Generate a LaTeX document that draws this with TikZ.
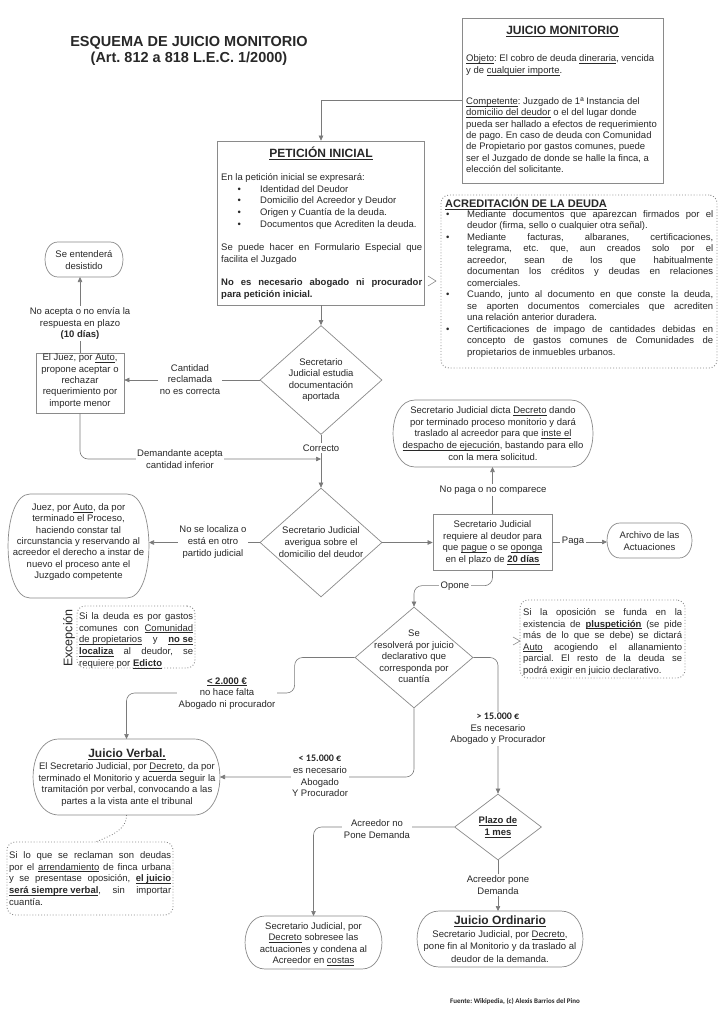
\documentclass[tikz,border=0pt]{standalone}
\usepackage{fontspec}
\setmainfont{Liberation Sans}
\newfontfamily\calib{Carlito}
\usetikzlibrary{arrows.meta,calc,shapes.geometric}
\definecolor{txtc}{HTML}{282828}
\definecolor{linec}{HTML}{7A7A7A}
\definecolor{boxc}{HTML}{8A8A8A}
\frenchspacing
\newsavebox{\undbox}
\newcommand{\und}[1]{\sbox{\undbox}{#1}\rlap{\rule[-0.17em]{\wd\undbox}{0.05em}}\usebox{\undbox}}
\newcommand{\J}[2]{\makebox[#1][s]{#2}}
\newcommand{\bul}{\makebox[21pt][l]{\textbullet}}
\newcommand{\ind}{\hspace*{21pt}}
\newcommand{\pbul}{\hspace*{16.5pt}\makebox[22.5pt][l]{\textbullet}}
\newcommand{\termshape}[6]{%
  \node[shapebox, minimum width=#4pt, minimum height=#5pt] (#1) at (#2,#3) {};
  \draw[boxline] ([xshift=#6pt]#1.north west) -- ([xshift=-#6pt]#1.north east)
    .. controls +(1.33*#6pt,0) and +(1.33*#6pt,0) .. ([xshift=-#6pt]#1.south east)
    -- ([xshift=#6pt]#1.south west)
    .. controls +(-1.33*#6pt,0) and +(-1.33*#6pt,0) .. ([xshift=#6pt]#1.north west) -- cycle;
}
\begin{document}
\begin{tikzpicture}[x=1pt,y=-1pt,
  txt/.style={text=txtc, font=\fontsize{9.5}{11.6}\selectfont\frenchspacing, inner sep=0pt, align=center},
  lbl/.style={txt, fill=white, inner sep=1.5pt},
  hdr/.style={text=txtc, font=\fontsize{12}{14}\selectfont\bfseries, inner sep=0pt},
  con/.style={draw=linec, line width=0.6pt, -{Triangle[width=4.5pt,length=5pt]}, rounded corners=8pt},
  boxline/.style={draw=boxc, line width=0.7pt},
  shapebox/.style={rectangle, inner sep=0pt, outer sep=0pt},
  rectbox/.style={rectangle, draw=boxc, line width=0.7pt, inner sep=0pt},
  dotbox/.style={rectangle, draw=boxc, line width=0.9pt, dotted, rounded corners=8pt, inner sep=0pt},
  dia/.style={diamond, draw=boxc, line width=0.7pt, inner sep=0pt}
]
\fill[white] (0,0) rectangle (724,1024);
\useasboundingbox (0,0) rectangle (724,1024);

% title
\node[text=txtc, font=\fontsize{14.5}{16}\selectfont\bfseries, align=center, inner sep=0pt] (title) at (189,51) {ESQUEMA DE JUICIO MONITORIO\\(Art. 812 a 818 L.E.C. 1/2000)};

% JUICIO MONITORIO box
\node[rectbox, minimum width=201pt, minimum height=165pt] (jm) at (562.5,100.5) {};
\node[hdr] (jmh) at (562.5,31) {\und{JUICIO MONITORIO}};
\node[txt, align=left, anchor=west, font=\fontsize{9.5}{11.4}\selectfont\frenchspacing] (jmb) at (466,114) {\und{Objeto}: El cobro de deuda \und{dineraria}, vencida\\
y de \und{cualquier importe}.\\[19.6pt]
\und{Competente}: Juzgado de 1ª Instancia del\\
\und{domicilio del deudor} o el del lugar donde\\
pueda ser hallado a efectos de requerimiento\\
de pago. En caso de deuda con Comunidad\\
de Propietario por gastos comunes, puede\\
ser el Juzgado de donde se halle la finca, a\\
elección del solicitante.};

% PETICION INICIAL
\node[rectbox, minimum width=207pt, minimum height=164pt] (pet) at (321,223) {};
\node[hdr] (peth) at (321,153) {\und{PETICIÓN INICIAL}};
\node[txt, align=left, anchor=west, font=\fontsize{9.5}{11.7}\selectfont\frenchspacing] (petb) at (221,236.5) {En la petición inicial se expresará:\\
\pbul Identidad del Deudor\\
\pbul Domicilio del Acreedor y Deudor\\
\pbul Origen y Cuantía de la deuda.\\
\pbul Documentos que Acrediten la deuda.\\[11.7pt]
\J{201pt}{Se puede hacer en Formulario Especial que}\\
facilita el Juzgado\\[11.7pt]
\J{201pt}{\bfseries No es necesario abogado ni procurador}\\
\textbf{para petición inicial.}};

% ACREDITACION
\node[dotbox, minimum width=276pt, minimum height=173pt] (acr) at (579,281.5) {};
\node[text=txtc, font=\fontsize{11}{13}\selectfont\bfseries, inner sep=0pt, anchor=west] (acrh) at (445,204) {\und{ACREDITACIÓN DE LA DEUDA}};
\node[txt, align=left, anchor=west, font=\fontsize{9.5}{11.5}\selectfont\frenchspacing] (acrb) at (446,284) {\bul\J{246pt}{Mediante documentos que aparezcan firmados por el}\\
\ind deudor (firma, sello o cualquier otra señal).\\
\bul\J{246pt}{Mediante facturas, albaranes, certificaciones,}\\
\ind\J{246pt}{telegrama, etc. que, aun creados solo por el}\\
\ind\J{246pt}{acreedor, sean de los que habitualmente}\\
\ind\J{246pt}{documentan los créditos y deudas en relaciones}\\
\ind comerciales.\\
\bul\J{246pt}{Cuando, junto al documento en que conste la deuda,}\\
\ind\J{246pt}{se aporten documentos comerciales que acrediten}\\
\ind una relación anterior duradera.\\
\bul\J{246pt}{Certificaciones de impago de cantidades debidas en}\\
\ind\J{246pt}{concepto de gastos comunes de Comunidades de}\\
\ind propietarios de inmuebles urbanos.};
\draw[linec, line width=0.5pt] (428,276) -- (436,281) -- (428,286);

% left column top
\termshape{des}{84}{259.5}{78}{35}{13}
\node[txt] (dest) at (84,260) {Se entenderá\\desistido};
\node[rectbox, minimum width=88pt, minimum height=60pt] (juez) at (80,383) {};
\node[txt, font=\fontsize{9.5}{11.3}\selectfont] (juezt) at (80,381) {El Juez, por \und{Auto},\\propone aceptar o\\rechazar\\requerimiento por\\importe menor};

% diamonds 1 and 2
\node[dia, minimum width=122pt, minimum height=109pt] (d1) at (321,380) {};
\node[txt] (d1t) at (321,380) {Secretario\\Judicial estudia\\documentación\\aportada};
\node[dia, minimum width=122pt, minimum height=109pt] (d2) at (321,542.5) {};
\node[txt] (d2t) at (321,542) {Secretario Judicial\\averigua sobre el\\domicilio del deudor};

% juez por auto terminal
\termshape{jp}{78.5}{546}{141}{104}{22}
\node[txt, font=\fontsize{9.5}{11.3}\selectfont] (jpt) at (78.5,542) {Juez, por \und{Auto}, da por\\terminado el Proceso,\\haciendo constar tal\\circunstancia y reservando al\\acreedor el derecho a instar de\\nuevo el proceso ante el\\Juzgado competente};

% requiere box
\node[rectbox, minimum width=119pt, minimum height=56pt] (req) at (492.5,542) {};
\node[txt] (reqt) at (492.5,542.5) {Secretario Judicial\\requiere al deudor para\\que \und{pague} o se \und{oponga}\\en el plazo de \textbf{\und{20 días}}};

% decreto terminal
\termshape{dec}{493}{433.5}{200}{67}{22}
\node[txt] (dect) at (493,433.5) {Secretario Judicial dicta \und{Decreto} dando\\por terminado proceso monitorio y dará\\traslado al acreedor para que \und{inste el}\\\und{despacho de ejecución}, bastando para ello\\con la mera solicitud.};

% archivo terminal
\termshape{arc}{649.5}{540.5}{85}{35}{13}
\node[txt] (arct) at (649.5,541) {Archivo de las\\Actuaciones};

% diamond 3
\node[dia, minimum width=118pt, minimum height=101pt] (d3) at (414,657.5) {};
\node[txt] (d3t) at (414,656.5) {Se\\resolverá por juicio\\declarativo que\\corresponda por\\cuantía};

% pluspeticion
\node[dotbox, minimum width=165pt, minimum height=78pt] (plus) at (602.5,639) {};
\node[txt, align=left, anchor=west] (plust) at (523,642) {\J{159pt}{Si la oposición se funda en la}\\
\J{159pt}{existencia de \textbf{\und{pluspetición}} (se pide}\\
\J{159pt}{más de lo que se debe) se dictará}\\
\J{159pt}{\und{Auto} acogiendo el allanamiento}\\
\J{159pt}{parcial. El resto de la deuda se}\\
podrá exigir en juicio declarativo.};
\draw[linec, line width=0.5pt] (513,637) -- (520,641) -- (513,645);

% excepcion
\node[dotbox, minimum width=118pt, minimum height=62pt] (exc) at (136,637) {};
\node[txt, align=left, anchor=west, font=\fontsize{9.5}{11.75}\selectfont\frenchspacing] (exct) at (79,640.5) {\J{114pt}{Si la deuda es por gastos}\\
\J{114pt}{comunes con \und{Comunidad}}\\
\J{114pt}{\und{de propietarios} y \textbf{\und{no se}}}\\
\J{114pt}{\textbf{\und{localiza}} al deudor, se}\\
requiere por \textbf{\und{Edicto}}};
\node[txt, rotate=90, font=\fontsize{12.5}{14}\selectfont] (excl) at (69,638) {Excepción};

% juicio verbal
\termshape{jv}{126.5}{777}{187}{76}{26}
\node[hdr] (jvh) at (127,754) {\und{Juicio Verbal.}};
\node[txt] (jvt) at (127,784.5) {El Secretario Judicial, por \und{Decreto}, da por\\terminado el Monitorio y acuerda seguir la\\tramitación por verbal, convocando a las\\partes a la vista ante el tribunal};

% diamond 4
\node[dia, minimum width=87pt, minimum height=66pt] (d4) at (498,827) {};
\node[txt] (d4t) at (498,827) {\textbf{\und{Plazo de}}\\\textbf{\und{1 mes}}};

% sobresee terminal
\termshape{sob}{313.5}{942.5}{137}{53}{20}
\node[txt, font=\fontsize{9.5}{11.3}\selectfont] (sobt) at (313.5,944) {Secretario Judicial, por\\\und{Decreto} sobresee las\\actuaciones y condena al\\Acreedor en \und{costas}};

% juicio ordinario
\termshape{ord}{500}{939}{166}{56}{22}
\node[hdr] (ordh) at (500,921) {\und{Juicio Ordinario}};
\node[txt, font=\fontsize{9.5}{12.3}\selectfont] (ordt) at (500,946.5) {Secretario Judicial, por \und{Decreto},\\pone fin al Monitorio y da traslado al\\deudor de la demanda.};

% arrendamiento
\node[dotbox, minimum width=166pt, minimum height=73pt] (arr) at (90,878.5) {};
\node[txt, align=left, anchor=west] (arrt) at (9,878.5) {\J{162pt}{Si lo que se reclaman son deudas}\\
\J{162pt}{por el \und{arrendamiento} de finca urbana}\\
\J{162pt}{y se presentase oposición, \textbf{\und{el juicio}}}\\
\J{162pt}{\textbf{\und{será siempre verbal}}, sin importar}\\
cuantía.};
\draw[linec, line width=0.8pt, dotted] (jv.south) .. controls (127,830) and (110,836) .. ($(arr.north west)+(90,0)$);

% source
\node[text=txtc, font=\calib\bfseries\fontsize{7}{9}\selectfont, inner sep=0pt] (src) at (515,1001) {Fuente: Wikipedia, (c) Alexis Barrios del Pino};

% connectors
\draw[con, sharp corners] (jm.west) -| (pet.north);
\draw[con] (pet.south) -- (d1.north);
\draw[con] (d1.west) -- (d1.west -| juez.east);
\draw[con] (juez.north) -- (juez.north |- des.south);
\coordinate (m1) at (321,459);
\draw[con] (juez.south) |- (m1);
\draw[con] (d1.south) -- (d2.north);
\draw[con] (d2.west) -- (d2.west -| jp.east);
\draw[con] (d2.east) -- (d2.east -| req.west);
\draw[con] (req.north) -- (req.north |- dec.south);
\draw[con] (req.east) -- (req.east -| arc.west);
\draw[con] (req.south) |- ($(d3.north)+(0,-21)$) -- (d3.north);
\draw[con] (d3.west) -- ++(-60,0) |- ($(jv.north)+(0,-46)$) -- (jv.north);
\draw[con] (d3.south) |- (jv.east);
\draw[con] (d3.east) -| (d4.north);
\draw[con] (d4.west) -| (sob.north);
\draw[con] (d4.south) -- (d4.south |- ord.north);

% labels
\node[lbl] (l1) at (80,323.5) {No acepta o no envía la\\respuesta en plazo\\\textbf{(10 días)}};
\node[lbl] (l2) at (190,379.5) {Cantidad\\reclamada\\no es correcta};
\node[lbl] (l3) at (180,459) {Demandante acepta\\cantidad inferior};
\node[lbl] (l4) at (321,448) {Correcto};
\node[lbl] (l5) at (213,542) {No se localiza o\\está en otro\\partido judicial};
\node[lbl] (l6) at (493,490) {No paga o no comparece};
\node[lbl] (l7) at (573,541) {Paga};
\node[lbl] (l8) at (455,586) {Opone};
\node[lbl] (l9) at (227,693.5) {\textbf{\und{< 2.000 €}}\\no hace falta\\Abogado ni procurador};
\node[lbl] (l10) at (320,776) {{\calib\bfseries\fontsize{10}{11.6}\selectfont < 15.000 €}\\es necesario\\Abogado\\Y Procurador};
\node[lbl] (l11) at (498,729) {{\calib\bfseries\fontsize{10}{11.6}\selectfont > 15.000 €}\\Es necesario\\Abogado y Procurador};
\node[lbl] (l12) at (377,829) {Acreedor no\\Pone Demanda};
\node[lbl] (l13) at (498,885) {Acreedor pone\\Demanda};
\end{tikzpicture}
\end{document}
